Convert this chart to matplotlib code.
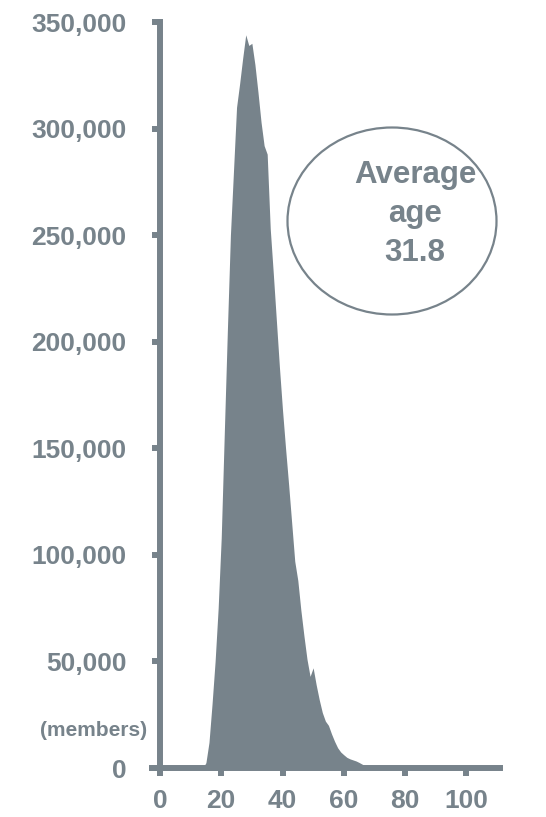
import numpy as np
import matplotlib
matplotlib.use("Agg")
import matplotlib.pyplot as plt
from matplotlib.patches import Ellipse

# members by single year of age
ages = np.arange(0, 111)
members = [4500, 500, 0, 0, 0, 0, 0, 0, 0, 0,
           0, 0, 0, 0, 0, 2500, 12000, 30000, 50000, 75000,
           108000, 157000, 205000, 250000, 280000, 310000, 321000, 333000, 344000, 339000,
           340000, 330000, 317000, 303000, 292000, 288000, 253000, 232000, 210000, 188000,
           168000, 150000, 133000, 115000, 97000, 88000, 74000, 62000, 51000, 43000,
           47000, 39000, 32000, 26000, 22000, 20000, 16000, 12500, 9500, 7500,
           6200, 5000, 4300, 3800, 3300, 2600, 1800, 1000, 400, 0] + [0] * 41

y_ticks = [0, 50000, 100000, 150000, 200000, 250000, 300000, 350000]
y_labels = ["0", "50,000", "100,000", "150,000", "200,000", "250,000", "300,000", "350,000"]
x_ticks = [0, 20, 40, 60, 80, 100]
avg_age = 31.8

grey = "#77838b"
plt.rcParams["font.family"] = ["Liberation Sans", "DejaVu Sans"]
plt.rcParams["font.weight"] = "bold"

fig = plt.figure(figsize=(5.46, 8.17), dpi=100)
ax = fig.add_axes([152 / 546, 49 / 817, 348 / 546, 746 / 817])

ax.fill_between(ages, members, 0, color=grey, linewidth=0)

ax.set_xlim(-2.6, 111)
ax.set_ylim(0, 350000)

for side in ["top", "right"]:
    ax.spines[side].set_visible(False)
ax.spines["left"].set_position(("data", 0))
for side in ["left", "bottom"]:
    ax.spines[side].set_color(grey)
    ax.spines[side].set_linewidth(4.3)

ax.set_yticks(y_ticks)
ax.set_yticklabels(y_labels)
ax.set_xticks(x_ticks)
ax.tick_params(axis="y", length=6, width=4.3, color=grey, labelcolor=grey,
               labelsize=19, pad=18)
ax.tick_params(axis="x", length=6, width=4.3, color=grey, labelcolor=grey,
               labelsize=19, pad=9)
for lbl in ax.get_xticklabels() + ax.get_yticklabels():
    lbl.set_fontweight("bold")

fig.text(147 / 546, 1 - 731 / 817, "(members)", ha="right", va="center",
         fontsize=15, color=grey, fontweight="bold")

# average age badge
ell = Ellipse((392 / 546, 1 - 221 / 817), 209 / 546, 187 / 817,
              transform=fig.transFigure, fill=False, edgecolor=grey, linewidth=1.6)
fig.add_artist(ell)
for txt, ypx in [("Average", 183), ("age", 222), (f"{avg_age}", 261)]:
    fig.text(415 / 546, 1 - ypx / 817, txt, ha="center", va="baseline",
             fontsize=22.5, color=grey, fontweight="bold")

fig.savefig("out.png", dpi=100)
